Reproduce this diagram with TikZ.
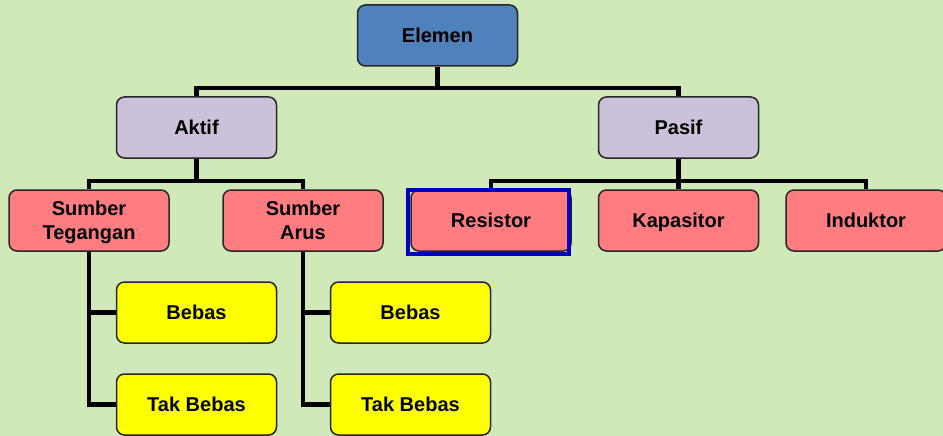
\documentclass[tikz,border=0pt]{standalone}
\usepackage{fontspec}
\setmainfont{Liberation Sans}
\pgfdeclarelayer{bg}
\pgfdeclarelayer{lines}
\pgfsetlayers{bg,lines,main}
\definecolor{bgc}{HTML}{D1E9B9}
\definecolor{topc}{HTML}{4F81BD}
\definecolor{midc}{HTML}{CCC1DA}
\definecolor{pinkc}{HTML}{FF7C80}
\definecolor{yelc}{HTML}{FFFF00}
\definecolor{edgec}{HTML}{262626}
\definecolor{hlc}{HTML}{0000C0}
\tikzset{
  box/.style={draw=edgec, line width=1.5pt, rounded corners=8pt, minimum width=160pt, minimum height=61pt, align=center, inner sep=0pt, text depth=0pt, font=\fontsize{20}{24}\selectfont\bfseries},
  topbox/.style={box, fill=topc},
  midbox/.style={box, fill=midc},
  pinkbox/.style={box, fill=pinkc},
  yelbox/.style={box, fill=yelc},
  conn/.style={line width=4.2pt, draw=black},
  hilite/.style={draw=hlc, line width=4pt}
}
\begin{document}
\begin{tikzpicture}[x=1pt,y=-1pt]
\useasboundingbox (0,0) rectangle (943,436);
\begin{pgfonlayer}{bg}
\fill[bgc] (0,0) rectangle (943,436);
\end{pgfonlayer}
\node[topbox] (elemen) at (437.5,35.5) {Elemen};
\node[midbox] (aktif) at (196.5,127.5) {Aktif};
\node[midbox] (pasif) at (678.5,127.5) {Pasif};
\node[pinkbox] (st) at (89,220.5) {Sumber\\Tegangan};
\node[pinkbox] (sa) at (303,220.5) {Sumber\\Arus};
\node[pinkbox] (res) at (491,220.5) {Resistor};
\node[pinkbox] (kap) at (678.5,220.5) {Kapasitor};
\node[pinkbox] (ind) at (866,220.5) {Induktor};
\node[yelbox] (b1) at (196.5,312.5) {Bebas};
\node[yelbox] (tb1) at (196.5,404.5) {Tak Bebas};
\node[yelbox] (b2) at (410.5,312.5) {Bebas};
\node[yelbox] (tb2) at (410.5,404.5) {Tak Bebas};
\draw[hilite] (408,190) rectangle (568.5,253.5);
\begin{pgfonlayer}{lines}
\draw[conn] (elemen.south) -- ++(0,21.5) -| (aktif.north);
\draw[conn] (elemen.south) -- ++(0,21.5) -| (pasif.north);
\draw[conn] (aktif.south) -- ++(0,22) -| (st.north);
\draw[conn] (aktif.south) -- ++(0,22) -| (sa.north);
\draw[conn] (pasif.south) -- ++(0,22) -| (res.north);
\draw[conn] (pasif.south) -- (kap.north);
\draw[conn] (pasif.south) -- ++(0,22) -| (ind.north);
\draw[conn] (st.south) |- (b1.west);
\draw[conn] (st.south) |- (tb1.west);
\draw[conn] (sa.south) |- (b2.west);
\draw[conn] (sa.south) |- (tb2.west);
\end{pgfonlayer}
\end{tikzpicture}
\end{document}
